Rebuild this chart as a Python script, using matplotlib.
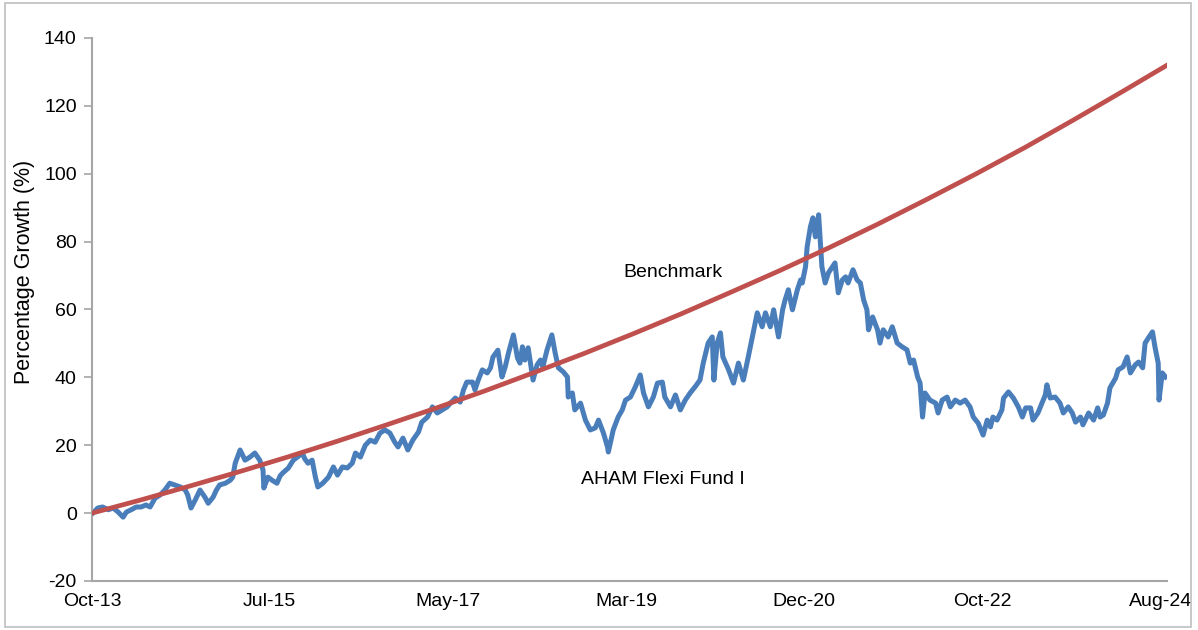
import numpy as np
import pandas as pd
import matplotlib
matplotlib.use("Agg")
from matplotlib import pyplot as plt
from matplotlib import dates as mdates
from matplotlib.patches import Rectangle

plt.rcParams['font.family'] = ['Liberation Sans', 'DejaVu Sans']
plt.rcParams['axes.unicode_minus'] = False

# months since 1 Oct 2013, and growth (%)
fund_months = [
    0.1, 0.7, 1.3, 2.0, 2.6, 3.2, 3.8, 4.2, 4.8, 5.4, 6.0, 6.6, 7.1, 7.7, 8.3, 8.9,
    9.5, 10.1, 10.8, 11.4, 11.7, 12.1, 12.6, 13.2, 13.8, 14.2, 14.8, 15.2, 15.6, 16.3,
    16.9, 17.2, 17.5, 18.1, 18.7, 19.3, 19.9, 20.5, 20.9, 21.0, 21.5, 22.0, 22.6, 23.0,
    23.3, 24.0, 24.6, 25.1, 25.7, 26.0, 26.4, 26.9, 27.3, 27.6, 28.2, 28.9, 29.5, 30.0,
    30.6, 31.2, 31.8, 32.2, 32.8, 33.4, 34.0, 34.6, 35.2, 35.8, 36.4, 37.0, 37.4, 38.0,
    38.6, 39.2, 39.9, 40.3, 41.0, 41.6, 42.2, 42.8, 43.4, 43.8, 44.4, 45.0, 45.4, 45.8,
    46.5, 46.8, 47.2, 47.7, 48.3, 48.7, 49.0, 49.6, 50.1, 50.5, 50.9, 51.5, 52.0, 52.3,
    52.6, 52.9, 53.3, 53.9, 54.4, 54.8, 55.1, 55.6, 56.2, 56.6, 57.0, 57.6, 58.1, 58.2,
    58.7, 59.0, 59.7, 60.3, 60.9, 61.5, 61.9, 62.5, 63.0, 63.1, 63.7, 64.3, 64.8, 65.2,
    65.8, 66.4, 67.0, 67.4, 68.0, 68.6, 69.1, 69.7, 70.0, 70.7, 71.3, 71.9, 72.5, 73.1,
    73.7, 74.3, 74.7, 75.3, 75.8, 76.0, 76.4, 76.8, 77.1, 77.8, 78.4, 79.0, 79.6, 80.2,
    80.8, 81.3, 81.9, 82.3, 82.9, 83.3, 83.9, 84.4, 84.7, 85.1, 85.6, 86.2, 86.6, 86.8,
    87.2, 87.4, 87.8, 88.1, 88.4, 88.8, 89.0, 89.2, 89.6, 90.0, 90.5, 90.8, 91.2, 91.7,
    92.1, 92.4, 93.0, 93.5, 93.9, 94.3, 94.7, 94.9, 95.4, 96.0, 96.3, 96.7, 97.3, 97.8,
    98.4, 99.0, 99.6, 100.0, 100.4, 100.9, 101.2, 101.5, 101.8, 102.4, 103.1, 103.4, 103.9, 104.5,
    104.9, 105.5, 106.1, 106.7, 107.3, 107.7, 108.3, 108.9, 109.4, 109.8, 110.1, 110.6, 111.2, 111.4,
    112.0, 112.6, 113.2, 113.7, 114.1, 114.7, 115.0, 115.6, 116.1, 116.5, 116.7, 117.1, 117.7, 118.3,
    118.7, 119.3, 119.8, 120.2, 120.8, 121.1, 121.8, 122.4, 122.9, 123.2, 123.6, 124.1, 124.4, 125.1,
    125.4, 126.0, 126.5, 126.9, 127.5, 127.9, 128.4, 128.7, 129.1, 129.6, 129.9, 130.3, 130.4, 130.8,
    131.2,
]
fund_values = [
    0.0, 1.5, 1.8, 1.0, 1.5, 0.3, -1.2, 0.3, 1.0, 1.8, 1.8, 2.4, 1.8, 4.4, 5.3, 6.8,
    8.8, 8.3, 7.7, 6.8, 5.3, 1.5, 3.8, 6.8, 4.7, 2.9, 4.7, 6.8, 8.3, 8.8,
    9.7, 10.6, 14.7, 18.6, 15.6, 16.5, 17.7, 15.6, 12.7, 7.4, 10.6, 9.7, 8.8, 11.0,
    11.8, 13.3, 15.6, 16.5, 17.7, 16.0, 14.7, 15.6, 10.6, 7.7, 8.8, 10.6, 13.6, 11.2,
    13.6, 13.3, 14.7, 17.7, 16.5, 20.0, 21.5, 20.9, 23.6, 24.5, 23.6, 20.9, 19.5, 22.1,
    18.6, 21.5, 23.9, 26.8, 28.3, 31.3, 29.5, 30.4, 31.3, 32.4, 33.9, 32.7, 36.3, 38.6,
    38.6, 36.3, 39.2, 42.2, 41.3, 42.8, 46.0, 48.0, 40.1, 43.1, 47.2, 52.5, 45.7, 44.2,
    49.0, 45.1, 48.7, 39.2, 43.7, 45.1, 43.1, 48.0, 52.5, 47.2, 42.8, 41.6, 40.1, 34.2,
    35.4, 30.4, 32.4, 27.4, 24.5, 25.1, 27.4, 23.6, 19.5, 18.0, 24.5, 28.3, 30.4, 33.3,
    34.2, 37.2, 40.7, 35.4, 31.3, 34.2, 38.3, 38.6, 34.2, 31.3, 34.8, 30.4, 33.3, 35.4,
    37.2, 39.2, 44.2, 50.1, 51.9, 39.2, 50.1, 53.1, 46.0, 42.2, 38.3, 44.2, 39.2, 46.0,
    53.1, 59.0, 54.9, 59.0, 54.9, 59.9, 51.9, 59.9, 62.8, 65.8, 59.9, 65.8, 68.7, 67.8,
    72.6, 78.5, 84.4, 87.0, 81.4, 87.9, 80.5, 72.6, 67.8, 70.8, 72.6, 73.7, 64.9, 68.7,
    69.6, 67.8, 71.7, 68.7, 67.8, 62.8, 59.9, 54.0, 57.8, 54.0, 50.1, 54.0, 51.9, 54.9,
    50.1, 49.0, 48.1, 44.2, 45.1, 40.1, 38.3, 28.3, 35.4, 33.3, 32.4, 29.5, 33.3, 34.2,
    31.3, 33.3, 32.4, 33.3, 31.3, 28.3, 26.5, 23.0, 27.4, 25.4, 28.3, 27.4, 30.4, 33.9,
    35.7, 33.9, 31.3, 28.3, 31.0, 31.0, 27.4, 29.5, 32.4, 34.8, 37.8, 33.9, 34.2, 32.4,
    29.5, 31.3, 29.5, 26.8, 28.3, 26.0, 29.5, 27.4, 31.0, 28.3, 28.9, 32.4, 36.9, 39.8,
    42.2, 43.1, 46.0, 41.3, 43.7, 44.5, 42.8, 50.1, 51.6, 53.4, 49.0, 44.2, 33.3, 41.3,
    40.1,
]

bench_months = [0, 6, 12, 18, 24, 30, 36, 42, 48, 54, 60, 66, 72, 78, 84, 90,
                96, 102, 108, 114, 120, 126, 131.4]
bench_values = [0.0, 3.9, 8.0, 12.2, 16.6, 21.2, 26.0, 30.9, 36.0, 41.4, 46.9, 52.7,
                58.7, 65.0, 71.4, 78.1, 85.1, 92.4, 99.9, 107.7, 115.9, 124.3, 132.0]

tick_dates = ['2013-10-01', '2015-07-24', '2017-05-16', '2019-03-10',
              '2020-12-31', '2022-10-25', '2024-08-18']

start = pd.Timestamp('2013-10-01')
fund_dates = start + pd.to_timedelta(np.array(fund_months) * 30.4375, unit='D')
bench_dates = start + pd.to_timedelta(np.array(bench_months) * 30.4375, unit='D')

fig = plt.figure(figsize=(11.98, 6.3), dpi=100)
ax = fig.add_axes([0.0768, 0.0778, 0.8975, 0.862])

ax.plot(fund_dates, fund_values, color='#4a7ebb', lw=3.6, zorder=2)
ax.plot(bench_dates, bench_values, color='#c0504d', lw=3.4, zorder=3)

ax.text(pd.Timestamp('2019-09-01'), 71, 'Benchmark', fontsize=14, ha='center', va='center')
ax.text(pd.Timestamp('2019-07-25'), 10, 'AHAM Flexi Fund I', fontsize=14, ha='center', va='center')

ax.set_ylim(-20, 140)
ax.set_yticks(range(-20, 141, 20))
ax.set_xlim(start, bench_dates[-1])
ax.set_xticks(pd.to_datetime(tick_dates))
ax.xaxis.set_major_formatter(mdates.DateFormatter('%b-%y'))

ax.set_ylabel('Percentage Growth (%)', fontsize=15.5)
ax.yaxis.set_label_coords(-0.053, 0.57)
for s in ['top', 'right']:
    ax.spines[s].set_visible(False)
for s in ['left', 'bottom']:
    ax.spines[s].set_color('#a6a6a6')
    ax.spines[s].set_linewidth(1.5)
ax.tick_params(axis='y', colors='#a6a6a6', labelcolor='black', width=1.2, length=6, labelsize=14, pad=5)
ax.tick_params(axis='x', length=0, labelsize=14, pad=9)

fig.patches.append(Rectangle((0.004, 0.005), 0.99, 0.99, transform=fig.transFigure,
                             fill=False, edgecolor='#bfbfbf', lw=1.2))

fig.savefig('out.png', dpi=100)
